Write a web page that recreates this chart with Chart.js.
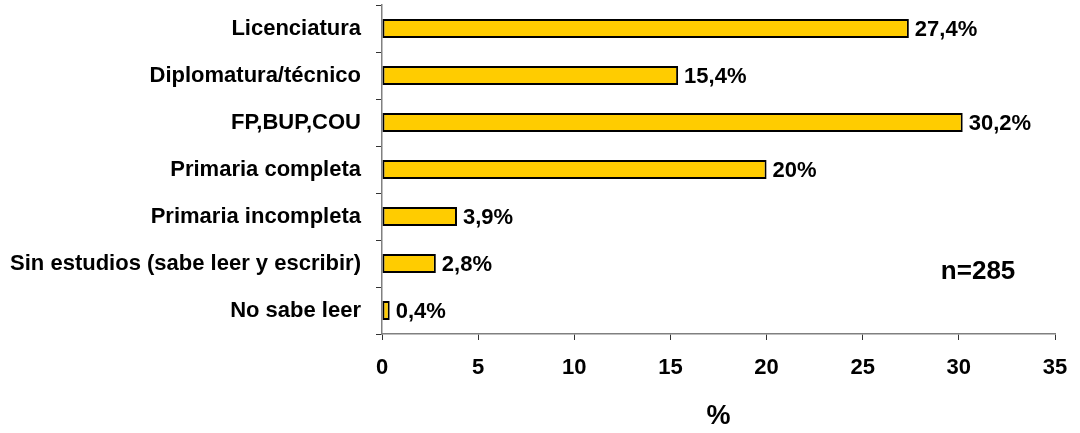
<!DOCTYPE html>
<html>
<head>
<meta charset="utf-8">
<script src="https://cdn.jsdelivr.net/npm/chart.js@4/dist/chart.umd.min.js"></script>
<style>
  html, body { margin: 0; padding: 0; background: #fff; }
  #wrap { width: 1080px; height: 433px; position: relative; }
</style>
</head>
<body>
<div id="wrap"><canvas id="chart"></canvas></div>
<script>
  const categories = [
    'Licenciatura',
    'Diplomatura/técnico',
    'FP,BUP,COU',
    'Primaria completa',
    'Primaria incompleta',
    'Sin estudios (sabe leer y escribir)',
    'No sabe leer',
  ];
  const values = [27.4, 15.4, 30.2, 20, 3.9, 2.8, 0.4];
  const valueLabels = ['27,4%', '15,4%', '30,2%', '20%', '3,9%', '2,8%', '0,4%'];
  const sampleNote = 'n=285';

  const fontFamily = 'Arial, "Liberation Sans", sans-serif';

  // value labels at the end of each bar plus the sample size note
  const labelsPlugin = {
    id: 'barLabels',
    afterDatasetsDraw(chart) {
      const ctx = chart.ctx;
      const meta = chart.getDatasetMeta(0);
      ctx.save();
      ctx.fillStyle = '#000';
      ctx.font = `bold 22px ${fontFamily}`;
      ctx.textAlign = 'left';
      ctx.textBaseline = 'middle';
      meta.data.forEach((bar, i) => {
        ctx.fillText(valueLabels[i], bar.x + 6, bar.y + 1);
      });
      const xs = chart.scales.x;
      const ys = chart.scales.y;
      ctx.font = `bold 26px ${fontFamily}`;
      ctx.textAlign = 'center';
      ctx.fillText(sampleNote, xs.getPixelForValue(31), ys.getPixelForValue(5) + 8);
      ctx.restore();
    },
  };

  new Chart(document.getElementById('chart'), {
    type: 'bar',
    data: {
      labels: categories,
      datasets: [{
        data: values,
        backgroundColor: '#FFCC00',
        borderColor: '#000',
        borderWidth: 2,
        borderSkipped: false,
        barPercentage: 0.4,
        categoryPercentage: 1,
      }],
    },
    options: {
      indexAxis: 'y',
      responsive: true,
      maintainAspectRatio: false,
      animation: false,
      layout: { padding: { top: 5, right: 25, left: 0, bottom: 0 } },
      plugins: {
        legend: { display: false },
        tooltip: { enabled: false },
      },
      scales: {
        x: {
          min: 0,
          max: 35,
          ticks: {
            stepSize: 5,
            color: '#000',
            padding: 15,
            font: { family: fontFamily, size: 22, weight: 'bold' },
          },
          grid: { drawOnChartArea: false, drawTicks: true, tickLength: 6, color: '#333' },
          border: { display: true, color: '#808080', width: 1.5 },
          title: {
            display: true,
            text: '%',
            color: '#000',
            padding: { top: 10, bottom: 0 },
            font: { family: fontFamily, size: 27, weight: 'bold' },
          },
          afterFit: (scale) => {
            scale.height = 99;
            scale.paddingLeft = 0;
            scale.paddingRight = 0;
          },
        },
        y: {
          ticks: {
            color: '#000',
            padding: 15,
            font: { family: fontFamily, size: 22, weight: 'bold' },
          },
          grid: { drawOnChartArea: false, drawTicks: true, tickLength: 6, offset: true, color: '#333' },
          border: { display: true, color: '#808080', width: 1.5 },
          afterFit: (scale) => {
            scale.width = 382;
            scale.paddingTop = 0;
            scale.paddingBottom = 0;
          },
        },
      },
    },
    plugins: [labelsPlugin],
  });
</script>
</body>
</html>
